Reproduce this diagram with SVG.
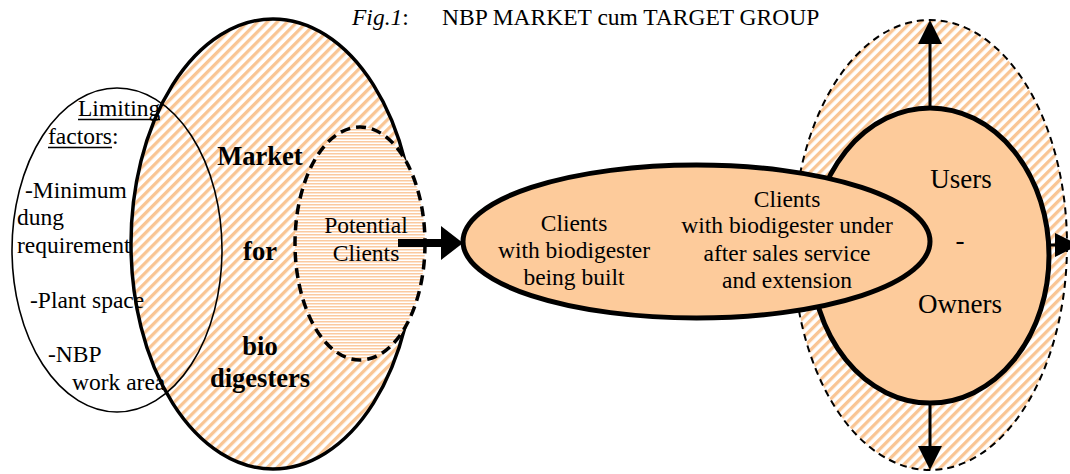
<svg xmlns="http://www.w3.org/2000/svg" width="1070" height="474" viewBox="0 0 1070 474">
  <defs>
    <!-- diagonal "/" orange hatch -->
    <pattern id="hatchDiag" patternUnits="userSpaceOnUse" width="7" height="7" patternTransform="rotate(45)">
      <rect width="7" height="7" fill="#ffffff"/>
      <rect width="3.3" height="7" fill="#f9c594"/>
    </pattern>
    <!-- fine horizontal stripes -->
    <pattern id="hatchHoriz" patternUnits="userSpaceOnUse" width="6" height="3">
      <rect width="6" height="3" fill="#ffffff"/>
      <rect width="6" height="1.5" fill="#fbcaa0"/>
    </pattern>
  </defs>
  <style>
    text { font-family: "Liberation Serif", "Times New Roman", serif; fill: #000; }
    .t { font-size: 23.5px; }
    .b { font-size: 26.5px; font-weight: bold; }
    .big { font-size: 27px; }
    .c { text-anchor: middle; }
    .orange { fill: #fdcb9b; }
  </style>

  <rect width="1070" height="474" fill="#ffffff"/>

  <!-- title -->
  <g id="title">
    <text class="t" x="352" y="25"><tspan font-style="italic">Fig.1</tspan>:</text>
    <text class="t" x="442" y="25">NBP MARKET cum TARGET GROUP</text>
  </g>

  <!-- market for biodigesters -->
  <g id="market">
    <ellipse cx="273" cy="244" rx="142" ry="225" fill="url(#hatchDiag)" stroke="#000" stroke-width="3.5"/>
    <text class="b c" x="260" y="165">Market</text>
    <text class="b c" x="260" y="260">for</text>
    <text class="b c" x="260" y="355">bio</text>
    <text class="b c" x="260" y="387">digesters</text>
  </g>

  <!-- limiting factors -->
  <g id="limiting-factors">
    <ellipse cx="117" cy="250" rx="105" ry="162" fill="none" stroke="#000" stroke-width="1.6"/>
    <text class="t" x="78" y="116">Limiting</text>
    <line x1="78" y1="119.5" x2="160" y2="119.5" stroke="#000" stroke-width="1.5"/>
    <text class="t" x="48" y="144">factors:</text>
    <line x1="48" y1="147.5" x2="112" y2="147.5" stroke="#000" stroke-width="1.5"/>
    <text class="t" x="25" y="198">-Minimum</text>
    <text class="t" x="17" y="225">dung</text>
    <text class="t" x="17" y="253">requirement</text>
    <text class="t" x="30" y="308">-Plant space</text>
    <text class="t" x="48" y="362">-NBP</text>
    <text class="t" x="72" y="390">work area</text>
  </g>

  <!-- potential clients -->
  <g id="potential-clients">
    <ellipse cx="360" cy="243.5" rx="65" ry="116.5" fill="url(#hatchHoriz)" stroke="#000" stroke-width="3.5" stroke-dasharray="10 6"/>
    <text class="t c" x="366" y="233">Potential</text>
    <text class="t c" x="366" y="261">Clients</text>
  </g>

  <!-- users / owners area -->
  <g id="users-owners">
    <ellipse cx="930" cy="245" rx="137" ry="225" fill="url(#hatchDiag)" stroke="#000" stroke-width="2" stroke-dasharray="7 5"/>
    <ellipse class="orange" cx="930" cy="255.5" rx="119" ry="147.5" stroke="#000" stroke-width="5"/>
    <text class="big c" x="961" y="188">Users</text>
    <text class="big c" x="960" y="249">-</text>
    <text class="big c" x="960" y="313">Owners</text>
  </g>

  <!-- clients ellipse -->
  <g id="clients">
    <ellipse class="orange" cx="696.5" cy="241.5" rx="233.5" ry="76.5" stroke="#000" stroke-width="5"/>
    <text class="t c" x="574" y="231">Clients</text>
    <text class="t c" x="574" y="258">with biodigester</text>
    <text class="t c" x="574" y="285">being built</text>
    <text class="t c" x="787" y="207">Clients</text>
    <text class="t c" x="787" y="233">with biodigester under</text>
    <text class="t c" x="787" y="261">after sales service</text>
    <text class="t c" x="787" y="288">and extension</text>
  </g>

  <!-- connectors -->
  <g id="connectors" fill="#000" stroke="none">
    <!-- potential clients to clients -->
    <rect x="398" y="239" width="45" height="8"/>
    <polygon points="441,226 463,243 441,260"/>
    <!-- upward -->
    <rect x="928.5" y="40" width="3" height="69"/>
    <polygon points="918,44 930,20 942,44"/>
    <!-- downward -->
    <rect x="928.5" y="402" width="3" height="47"/>
    <polygon points="918,446 930,470 942,446"/>
    <!-- rightward -->
    <rect x="1048" y="243.5" width="9" height="3"/>
    <polygon points="1055,233 1079,245 1055,257"/>
  </g>
</svg>
